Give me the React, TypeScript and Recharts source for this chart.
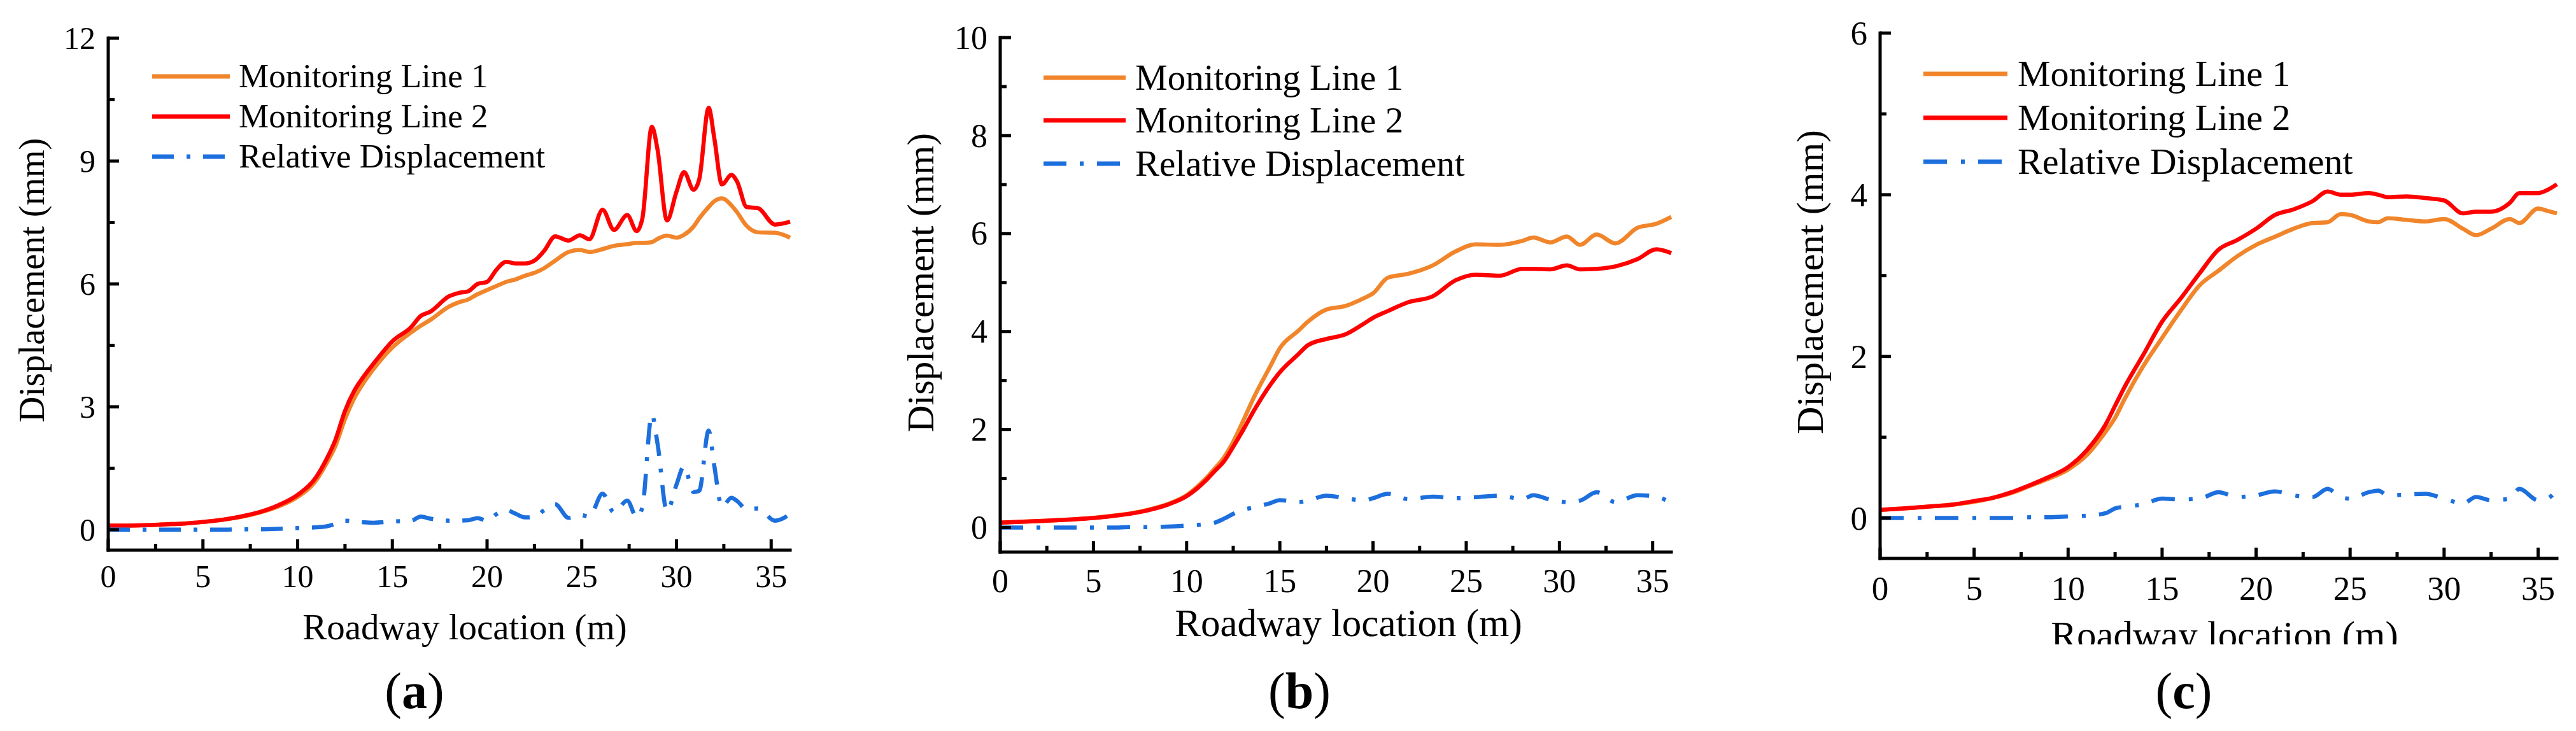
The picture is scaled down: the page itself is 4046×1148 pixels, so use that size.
import React from 'react';
import { LineChart, Line, XAxis, YAxis, Legend } from 'recharts';

// ---------- data ----------
const SERIES_NAMES = ['Monitoring Line 1', 'Monitoring Line 2', 'Relative Displacement'];
const X_TITLE = 'Roadway location (m)';
const Y_TITLE = 'Displacement (mm)';

const X_TICKS = [0, 2.5, 5, 7.5, 10, 12.5, 15, 17.5, 20, 22.5, 25, 27.5, 30, 32.5, 35];
const X_TICK_LABELS = [0, 5, 10, 15, 20, 25, 30, 35];

const A_Y_TICKS = [0, 1.5, 3, 4.5, 6, 7.5, 9, 10.5, 12];
const A_Y_LABELS = [0, 3, 6, 9, 12];
const B_Y_TICKS = [0, 1, 2, 3, 4, 5, 6, 7, 8, 9, 10];
const B_Y_LABELS = [0, 2, 4, 6, 8, 10];
const C_Y_TICKS = [0, 1, 2, 3, 4, 5, 6];
const C_Y_LABELS = [0, 2, 4, 6];

// panel (a)
const X_A = [0, 1, 2, 3, 4, 5, 6, 7, 8, 9, 10, 11, 11.5, 12, 12.5, 13, 13.5, 14, 15, 16, 16.5, 17, 18, 18.5, 19, 19.5, 20,
  20.5, 21, 21.5, 22, 22.5, 23, 23.6, 24.3, 24.9, 25.4, 26.1, 26.7, 27.4, 27.9, 28.2, 28.7,
  29, 29.5, 30, 30.4, 30.9, 31.2, 31.7, 32, 32.4, 32.9, 33.2, 33.7, 34.3, 35.2, 36];
const A_ML1 = [0.10, 0.10, 0.11, 0.13, 0.15, 0.19, 0.24, 0.31, 0.42, 0.57, 0.80, 1.22, 1.60, 2.05, 2.70, 3.22, 3.60, 3.92,
  4.45, 4.82, 4.98, 5.12, 5.45, 5.55, 5.62, 5.75, 5.85, 5.95, 6.05, 6.11, 6.20, 6.27, 6.38,
  6.57, 6.78, 6.83, 6.78, 6.85, 6.93, 6.97, 7.00, 7.00, 7.02,
  7.10, 7.18, 7.13, 7.20, 7.40, 7.60, 7.88, 8.02, 8.09, 7.92, 7.75, 7.42, 7.26, 7.25, 7.13];
const A_ML2 = [0.10, 0.10, 0.11, 0.13, 0.15, 0.19, 0.24, 0.32, 0.43, 0.60, 0.85, 1.30, 1.70, 2.20, 2.90, 3.40, 3.75, 4.05,
  4.60, 4.95, 5.22, 5.32, 5.70, 5.78, 5.82, 6.00, 6.05, 6.35, 6.54, 6.50, 6.50, 6.57, 6.80,
  7.16, 7.06, 7.19, 7.09, 7.81, 7.32, 7.68, 7.29, 7.60, 9.84,
  9.28, 7.55, 8.25, 8.73, 8.30, 8.55, 10.30, 9.55, 8.43, 8.66, 8.50, 7.88, 7.85, 7.45, 7.52];
const A_REL = [0.00, 0.00, 0.00, 0.00, 0.00, 0.00, 0.00, 0.01, 0.01, 0.02, 0.04, 0.06, 0.08, 0.14, 0.22, 0.20, 0.18, 0.17,
  0.20, 0.22, 0.32, 0.27, 0.22, 0.22, 0.23, 0.28, 0.22, 0.38, 0.48, 0.39, 0.30, 0.31, 0.47,
  0.62, 0.29, 0.36, 0.32, 0.88, 0.42, 0.71, 0.30, 0.55, 2.81,
  2.10, 0.45, 1.10, 1.55, 0.92, 0.95, 2.42, 1.55, 0.56, 0.78, 0.70, 0.50, 0.52, 0.22, 0.38];

// panel (b)
const X_B = [0, 2.5, 4, 5, 6, 7, 8, 9, 10, 11, 11.5, 12, 12.5, 13, 13.6, 14.5, 15, 16, 16.5, 17.5, 18.5, 19.5, 20, 20.8, 21.9,
  23.2, 24.4, 25.5, 26.8, 28, 28.6, 29.5, 30.4, 31.1, 32, 33, 34.2, 35.2, 36];
const B_ML1 = [0.10, 0.14, 0.17, 0.20, 0.24, 0.29, 0.37, 0.48, 0.66, 0.99, 1.20, 1.43, 1.75, 2.15, 2.65, 3.30, 3.66,
  4.02, 4.20, 4.45, 4.52, 4.68, 4.78, 5.10, 5.18,
  5.35, 5.63, 5.78, 5.77, 5.85, 5.92, 5.82, 5.94, 5.77, 5.98, 5.80, 6.12, 6.20, 6.34];
const B_ML2 = [0.10, 0.14, 0.17, 0.195, 0.235, 0.285, 0.36, 0.47, 0.64, 0.95, 1.15, 1.35, 1.65, 1.97, 2.38, 2.92, 3.17,
  3.54, 3.72, 3.85, 3.94, 4.16, 4.28, 4.42, 4.60,
  4.72, 5.04, 5.16, 5.14, 5.28, 5.28, 5.27, 5.35, 5.27, 5.28, 5.33, 5.48, 5.68, 5.60];
const B_REL = [0.00, 0.00, 0.00, 0.00, 0.00, 0.01, 0.01, 0.02, 0.04, 0.07, 0.10, 0.18, 0.28, 0.36, 0.41, 0.50, 0.56,
  0.52, 0.55, 0.65, 0.60, 0.55, 0.60, 0.69, 0.58,
  0.63, 0.60, 0.62, 0.65, 0.58, 0.66, 0.57, 0.52, 0.55, 0.72, 0.52, 0.66, 0.63, 0.50];

// panel (c)
const X_C = [0, 2.5, 4, 5, 6, 7, 8, 9, 10, 11, 12, 12.5, 13, 14, 15, 16, 17, 18, 19, 20, 21, 22, 23,
  23.8, 24.5, 25, 26, 26.5, 27, 28, 29, 30, 31, 31.7, 32.5, 33.5, 34, 35, 35.5, 36];
const C_ML1 = [0.10, 0.14, 0.17, 0.20, 0.25, 0.31, 0.40, 0.49, 0.60, 0.78, 1.07, 1.24, 1.47, 1.88, 2.23,
  2.57, 2.88, 3.06, 3.24, 3.38, 3.48, 3.58, 3.65,
  3.66, 3.76, 3.75, 3.67, 3.66, 3.71, 3.69, 3.67, 3.70, 3.58, 3.50, 3.58, 3.70, 3.65, 3.83, 3.80, 3.77];
const C_ML2 = [0.10, 0.14, 0.17, 0.21, 0.25, 0.32, 0.41, 0.51, 0.63, 0.84, 1.16, 1.39, 1.62, 2.02, 2.43,
  2.72, 3.03, 3.32, 3.44, 3.58, 3.75, 3.82, 3.92,
  4.04, 4.00, 4.00, 4.02, 4.00, 3.97, 3.98, 3.96, 3.93, 3.77, 3.79, 3.79, 3.90, 4.02, 4.02, 4.06, 4.13];
const C_REL = [0.00, 0.00, 0.00, 0.00, 0.00, 0.00, 0.01, 0.01, 0.02, 0.03, 0.06, 0.12, 0.14, 0.17, 0.24,
  0.23, 0.24, 0.32, 0.26, 0.28, 0.33, 0.28, 0.26,
  0.36, 0.26, 0.24, 0.32, 0.34, 0.28, 0.29, 0.30, 0.24, 0.18, 0.26, 0.22, 0.24, 0.36, 0.22, 0.24, 0.36];

// ---------- styling / layout ----------
const FONT = "'Liberation Serif', 'Times New Roman', Times, serif";
const ORANGE = '#F0852B';
const RED = '#FF0000';
const BLUE = '#1C6FDD';
const H = 1148;

const PANELS = [
  {
    letter: 'a', left: 0, width: 1320, top: 60, bottom: 864, plotLeft: 170, right: 79,
    yDomain: [-0.5, 12], yTicks: A_Y_TICKS, yLabels: A_Y_LABELS,
    x: X_A, ml1: A_ML1, ml2: A_ML2, rel: A_REL,
    tickFs: 50, xTickBase: 58, legendFs: 53, legendLine: [239, 361], legendText: 375, legendRows: [120, 183, 246],
    dash: '34 20 6 20', yTitle: [69, 440, 56], xTitle: [730, 1004, 57], letterPos: [651, 1112], clipY: null,
  },
  {
    letter: 'b', left: 1330, width: 1330, top: 59, bottom: 867, plotLeft: 241, right: 35,
    yDomain: [-0.5, 10], yTicks: B_Y_TICKS, yLabels: B_Y_LABELS,
    x: X_B, ml1: B_ML1, ml2: B_ML2, rel: B_REL,
    tickFs: 52, xTickBase: 63, legendFs: 57, legendLine: [309, 438], legendText: 453, legendRows: [122, 189, 257],
    dash: '36 21 6 21', yTitle: [136, 444, 59], xTitle: [788, 999, 61], letterPos: [711, 1112], clipY: null,
  },
  {
    letter: 'c', left: 2700, width: 1346, top: 52, bottom: 877, plotLeft: 253, right: 30,
    yDomain: [-0.5, 6], yTicks: C_Y_TICKS, yLabels: C_Y_LABELS,
    x: X_C, ml1: C_ML1, ml2: C_ML2, rel: C_REL,
    tickFs: 53, xTickBase: 65, legendFs: 58, legendLine: [321, 453], legendText: 469, legendRows: [116, 185, 254],
    dash: '37 22 6 21', yTitle: [163, 443, 60], xTitle: [794, 1018, 61], letterPos: [730, 1112], clipY: 1012,
  },
];

function Panel({ cfg }: { cfg: any }) {
  const data = cfg.x.map((x: number, i: number) => ({ x, ml1: cfg.ml1[i], ml2: cfg.ml2[i], rel: cfg.rel[i] }));

  const XTick = (props: any) => {
    const { x, y, payload } = props;
    const v = payload.value;
    const major = X_TICK_LABELS.includes(v);
    return (
      <g>
        <line x1={x} x2={x} y1={y} y2={y - (major ? 17 : 10)} stroke="#000" strokeWidth={5} />
        {major && (
          <text x={x} y={y + cfg.xTickBase} textAnchor="middle" fontFamily={FONT} fontSize={cfg.tickFs} fill="#000">
            {v}
          </text>
        )}
      </g>
    );
  };

  const YTick = (props: any) => {
    const { x, y, payload } = props;
    const v = payload.value;
    const major = cfg.yLabels.includes(v);
    return (
      <g>
        <line x1={x} x2={x + (major ? 17 : 10)} y1={y} y2={y} stroke="#000" strokeWidth={5} />
        {major && (
          <text x={x - 20} y={y + cfg.tickFs * 0.34} textAnchor="end" fontFamily={FONT} fontSize={cfg.tickFs} fill="#000">
            {v}
          </text>
        )}
      </g>
    );
  };

  const yTitle = () => (
    <text
      transform={`translate(${cfg.yTitle[0]},${cfg.yTitle[1]}) rotate(-90)`}
      textAnchor="middle"
      fontFamily={FONT}
      fontSize={cfg.yTitle[2]}
      fill="#000"
    >
      {Y_TITLE}
    </text>
  );

  const clipId = `xtitle-clip-${cfg.letter}`;
  const xTitle = () => (
    <g>
      {cfg.clipY != null && (
        <defs>
          <clipPath id={clipId}>
            <rect x={0} y={0} width={cfg.width} height={cfg.clipY} />
          </clipPath>
        </defs>
      )}
      <text
        x={cfg.xTitle[0]}
        y={cfg.xTitle[1]}
        textAnchor="middle"
        fontFamily={FONT}
        fontSize={cfg.xTitle[2]}
        fill="#000"
        clipPath={cfg.clipY != null ? `url(#${clipId})` : undefined}
      >
        {X_TITLE}
      </text>
      <text x={cfg.letterPos[0]} y={cfg.letterPos[1]} textAnchor="middle" fontFamily={FONT} fontSize={80} fill="#000">
        <tspan>(</tspan>
        <tspan fontWeight="bold">{cfg.letter}</tspan>
        <tspan>)</tspan>
      </text>
    </g>
  );

  const legendContent = (props: any) => {
    const items = props.payload || [];
    const [lx1, lx2] = cfg.legendLine;
    return (
      <svg width={cfg.width} height={340} style={{ display: 'block', overflow: 'visible' }}>
        {items.map((it: any, i: number) => {
          const y = cfg.legendRows[i];
          const dash = it.payload && it.payload.strokeDasharray;
          return (
            <g key={`lg-${i}`}>
              <line x1={lx1} x2={lx2} y1={y} y2={y} stroke={it.color} strokeWidth={7} strokeDasharray={dash} />
              <text x={cfg.legendText} y={y + cfg.legendFs * 0.33} fontFamily={FONT} fontSize={cfg.legendFs} fill="#000">
                {it.value}
              </text>
            </g>
          );
        })}
      </svg>
    );
  };

  const axisLine = { stroke: '#000', strokeWidth: 5, strokeLinecap: 'square' as const };

  return (
    <div style={{ position: 'absolute', left: cfg.left, top: 0, width: cfg.width, height: H }}>
      <LineChart
        width={cfg.width}
        height={H}
        data={data}
        margin={{ top: cfg.top, right: cfg.right, bottom: 0, left: 0 }}
      >
        <XAxis
          dataKey="x"
          type="number"
          domain={[0, 36]}
          ticks={X_TICKS}
          interval={0}
          height={H - cfg.bottom}
          tickSize={0}
          tickMargin={0}
          tickLine={false}
          axisLine={axisLine}
          tick={XTick}
          label={xTitle}
        />
        <XAxis
          xAxisId="top"
          orientation="top"
          type="number"
          domain={[0, 36]}
          height={0}
          tick={false}
          tickLine={false}
          axisLine={axisLine}
        />
        <YAxis
          type="number"
          domain={cfg.yDomain}
          ticks={cfg.yTicks}
          interval={0}
          width={cfg.plotLeft}
          tickSize={0}
          tickMargin={0}
          tickLine={false}
          axisLine={axisLine}
          tick={YTick}
          label={yTitle}
        />
        <YAxis
          yAxisId="right"
          orientation="right"
          type="number"
          domain={cfg.yDomain}
          width={0}
          tick={false}
          tickLine={false}
          axisLine={axisLine}
        />
        <Legend
          layout="vertical"
          align="center"
          verticalAlign="middle"
          wrapperStyle={{ left: 0, top: 0, width: cfg.width, height: 340 }}
          content={legendContent}
        />
        <Line
          type="monotone"
          dataKey="ml1"
          name={SERIES_NAMES[0]}
          stroke={ORANGE}
          strokeWidth={6.5}
          dot={false}
          activeDot={false}
          isAnimationActive={false}
        />
        <Line
          type="monotone"
          dataKey="ml2"
          name={SERIES_NAMES[1]}
          stroke={RED}
          strokeWidth={6.5}
          dot={false}
          activeDot={false}
          isAnimationActive={false}
        />
        <Line
          type="monotone"
          dataKey="rel"
          name={SERIES_NAMES[2]}
          stroke={BLUE}
          strokeWidth={6.5}
          strokeDasharray={cfg.dash}
          dot={false}
          activeDot={false}
          isAnimationActive={false}
        />
      </LineChart>
    </div>
  );
}

export default function App() {
  return (
    <div style={{ position: 'absolute', left: 0, top: 0, width: 4046, height: H, background: '#fff', overflow: 'hidden' }}>
      {PANELS.map((p) => (
        <Panel key={p.letter} cfg={p} />
      ))}
    </div>
  );
}
